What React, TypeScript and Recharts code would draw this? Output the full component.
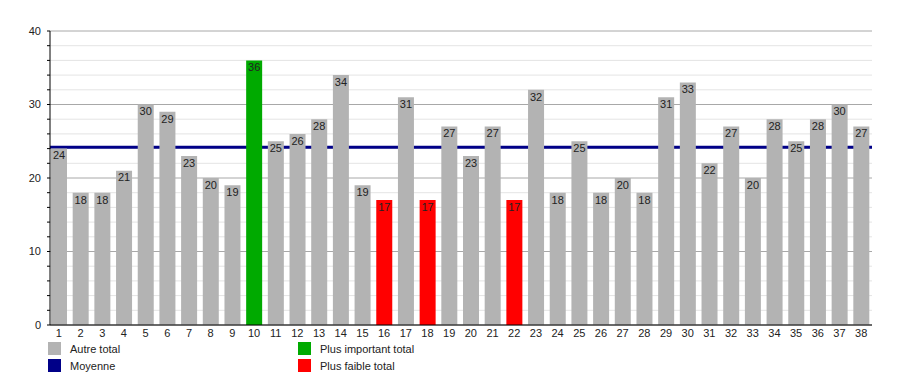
import React from "react";
import {
  ComposedChart,
  Bar,
  Cell,
  LabelList,
  XAxis,
  YAxis,
  CartesianGrid,
} from "recharts";

const categories = [
  "1", "2", "3", "4", "5", "6", "7", "8", "9", "10",
  "11", "12", "13", "14", "15", "16", "17", "18", "19", "20",
  "21", "22", "23", "24", "25", "26", "27", "28", "29", "30",
  "31", "32", "33", "34", "35", "36", "37", "38",
];

const totals = [
  24, 18, 18, 21, 30, 29, 23, 20, 19, 36,
  25, 26, 28, 34, 19, 17, 31, 17, 27, 23,
  27, 17, 32, 18, 25, 18, 20, 18, 31, 33,
  22, 27, 20, 28, 25, 28, 30, 27,
];

// (navy line)
const moyenne = 24.2;

const yTicks = [0, 2, 4, 6, 8, 10, 12, 14, 16, 18, 20, 22, 24, 26, 28, 30, 32, 34, 36, 38, 40];
const majorTicks = [0, 10, 20, 30, 40];
const minorTicks = [2, 4, 6, 8, 12, 14, 16, 18, 22, 24, 26, 28, 32, 34, 36, 38];

const GREY = "#b3b3b3";
const GREEN = "#00aa00";
const RED = "#ff0000";
const NAVY = "#000088";
const FONT = "'Liberation Sans', Arial, sans-serif";

const data = categories.map((name, i) => ({ name, total: totals[i] }));
const maxVal = Math.max(...totals);
const minVal = Math.min(...totals);

const legendItems = [
  { label: "Autre total", color: GREY, left: 48, top: 342 },
  { label: "Moyenne", color: NAVY, left: 48, top: 359 },
  { label: "Plus important total", color: GREEN, left: 298, top: 342 },
  { label: "Plus faible total", color: RED, left: 298, top: 359 },
];

export default function App() {
  return (
    <div
      style={{
        position: "absolute",
        left: 0,
        top: 0,
        width: 900,
        height: 375,
        background: "#fff",
        fontFamily: FONT,
      }}
    >
      <ComposedChart
        width={900}
        height={375}
        data={data}
        margin={{ top: 31, right: 28, left: 0, bottom: 30 }}
        barCategoryGap={0}
      >
        <CartesianGrid
          vertical={false}
          horizontalValues={minorTicks}
          stroke="#e4e4e4"
        />
        <CartesianGrid
          vertical={false}
          horizontalValues={majorTicks}
          stroke="#a8a8a8"
        />
        <CartesianGrid
          vertical={false}
          horizontalValues={[moyenne]}
          stroke={NAVY}
          strokeWidth={3}
        />
        <XAxis
          dataKey="name"
          height={20}
          padding={{ left: -2, right: 0 }}
          axisLine={{ stroke: "#000" }}
          tickLine={false}
          tickSize={0}
          tickMargin={4}
          interval={0}
          tick={{ fill: "#222", fontSize: 11, fontFamily: FONT }}
        />
        <YAxis
          width={50}
          domain={[0, 40]}
          ticks={yTicks}
          interval={0}
          axisLine={{ stroke: "#000" }}
          tickLine={{ stroke: "#000" }}
          tickSize={3}
          tickMargin={6}
          tickFormatter={(v: number) => (v % 10 === 0 ? String(v) : "")}
          tick={{ fill: "#222", fontSize: 11, fontFamily: FONT }}
        />
        <Bar dataKey="total" barSize={16} isAnimationActive={false}>
          {data.map((d) => (
            <Cell
              key={d.name}
              fill={d.total === maxVal ? GREEN : d.total === minVal ? RED : GREY}
            />
          ))}
          <LabelList
            dataKey="total"
            position="insideTop"
            offset={3}
            fill="#222"
            fontSize={11}
            fontFamily={FONT}
          />
        </Bar>
      </ComposedChart>
      {legendItems.map((item) => (
        <div
          key={item.label}
          style={{
            position: "absolute",
            left: item.left,
            top: item.top,
            display: "flex",
            alignItems: "center",
            fontSize: 11,
            color: "#222",
          }}
        >
          <div
            style={{
              width: 13,
              height: 13,
              background: item.color,
              marginRight: 9,
            }}
          />
          <span>{item.label}</span>
        </div>
      ))}
    </div>
  );
}
